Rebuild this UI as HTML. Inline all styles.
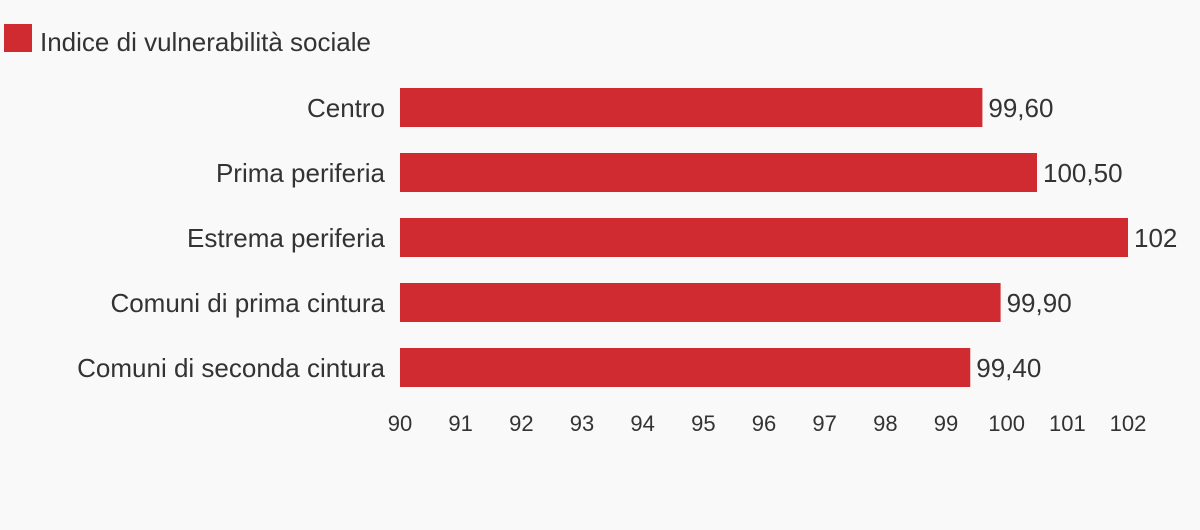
<!DOCTYPE html>
<html><head><meta charset="utf-8">
<style>
html,body{margin:0;padding:0;background:#f9f9f9;}
svg{display:block;font-family:"Liberation Sans","DejaVu Sans",sans-serif;}
</style></head>
<body>
<svg id="chart" width="1200" height="530">
<rect width="1200" height="530" fill="#f9f9f9"/>
<g>
<rect x="4" y="24" width="28" height="28" fill="#cf2b30"/>
<text x="40" y="51" font-size="26" fill="#333">Indice di vulnerabilità sociale</text>
</g>
<g id="bars"></g>
<g id="ticks"></g>
</svg>
<script>
const categories = ["Centro","Prima periferia","Estrema periferia","Comuni di prima cintura","Comuni di seconda cintura"];
const values = [99.6,100.5,102,99.9,99.4];
const tickValues = [90,91,92,93,94,95,96,97,98,99,100,101,102];

const xMin=90,xMax=102,x0=400,x1=1128;
function xScale(v){return x0+(v-xMin)/(xMax-xMin)*(x1-x0);}
const bandTop=88,bandStep=65,barH=39;
function yScale(i){return bandTop+i*bandStep;}
function fmt(v){return Number.isInteger(v)?String(v):v.toFixed(2).replace('.',',');}
const NS="http://www.w3.org/2000/svg";
const bars=document.getElementById('bars');
categories.forEach((c,i)=>{
  const y=yScale(i);
  const r=document.createElementNS(NS,'rect');
  r.setAttribute('x',xScale(xMin));r.setAttribute('y',y);
  r.setAttribute('width',xScale(values[i])-xScale(xMin));r.setAttribute('height',barH);
  r.setAttribute('fill','#cf2b30');
  
  
  bars.appendChild(r);
  const l=document.createElementNS(NS,'text');
  l.setAttribute('x',385);l.setAttribute('y',y+29);
  l.setAttribute('text-anchor','end');l.setAttribute('font-size','26');l.setAttribute('fill','#333');
  l.textContent=c;
  
  
  bars.appendChild(l);
  const v=document.createElementNS(NS,'text');
  v.setAttribute('x',xScale(values[i])+6);v.setAttribute('y',y+29);
  v.setAttribute('font-size','26');v.setAttribute('fill','#333');
  v.textContent=fmt(values[i]);
  
  
  bars.appendChild(v);
});
const ticks=document.getElementById('ticks');
tickValues.forEach(t=>{
  const tx=document.createElementNS(NS,'text');
  tx.setAttribute('x',xScale(t));tx.setAttribute('y',431);
  tx.setAttribute('text-anchor','middle');tx.setAttribute('font-size','22');tx.setAttribute('fill','#333');
  tx.textContent=t;
  
  
  ticks.appendChild(tx);
});
</script>
</body></html>
